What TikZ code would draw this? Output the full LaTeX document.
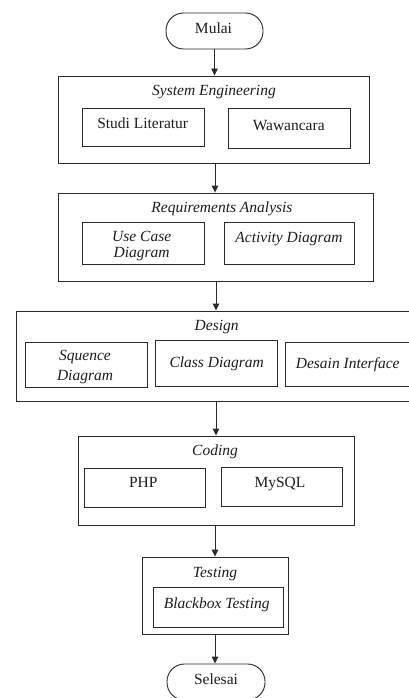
\documentclass[tikz,border=0pt]{standalone}
\usepackage{fontspec}
\setmainfont{Liberation Serif}
\usetikzlibrary{arrows.meta}
\definecolor{lc}{HTML}{2B2B2B}
\definecolor{tc}{HTML}{1E1E1E}
\begin{document}
\begin{tikzpicture}[x=1pt,y=-1pt,
  box/.style={draw=lc, line width=0.9pt, inner sep=0pt, fill=none},
  term/.style={box, rounded corners=17.5pt},
  txt/.style={inner sep=0pt, text height=0.66em, text depth=0pt, text=tc,
    font=\fontsize{15.5}{17}\selectfont, yshift=-1.5pt},
  ital/.style={txt, font=\fontsize{15.5}{17}\selectfont\itshape},
  arr/.style={draw=lc, line width=0.9pt, -{Triangle[length=7pt,width=6.5pt]}}]
\clip (0,0) rectangle (409,698);
\fill[white] (0,0) rectangle (409,698);

% start
\node[term, minimum width=97pt, minimum height=36pt] (mulai) at (214.5,31) {};
\node[txt] (mulaiT) at (213.5,28.5) {Mulai};

% System Engineering
\node[box, minimum width=311pt, minimum height=87pt] (se) at (213.5,119.5) {};
\node[ital] (seT) at (214,91) {System Engineering};
\node[box, minimum width=122pt, minimum height=38pt] (studi) at (143,127) {};
\node[txt] (studiT) at (142.7,124) {Studi Literatur};
\node[box, minimum width=122pt, minimum height=40pt] (waw) at (289,128) {};
\node[txt] (wawT) at (288.7,125.5) {Wawancara};

% Requirements Analysis
\node[box, minimum width=315pt, minimum height=88pt] (ra) at (215.5,237) {};
\node[ital] (raT) at (222,207.5) {Requirements Analysis};
\node[box, minimum width=122pt, minimum height=42pt] (uc) at (143,243) {};
\node[ital] (ucT1) at (141.7,236.5) {Use Case};
\node[ital] (ucT2) at (141.7,253) {Diagram};
\node[box, minimum width=130pt, minimum height=42pt] (act) at (289,243) {};
\node[ital] (actT) at (289,238) {Activity Diagram};

% Design
\node[box, minimum width=398pt, minimum height=90pt] (design) at (215,356) {};
\node[ital] (designT) at (216.7,326) {Design};
\node[box, minimum width=122pt, minimum height=45pt] (sq) at (86,364.5) {};
\node[ital] (sqT1) at (85,356) {Squence};
\node[ital] (sqT2) at (85,376) {Diagram};
\node[box, minimum width=122pt, minimum height=46pt] (cls) at (216,363) {};
\node[ital] (clsT) at (216.7,363) {Class Diagram};
\node[box, minimum width=128pt, minimum height=44pt] (dsn) at (349,364) {};
\node[ital] (dsnT) at (347.7,363.3) {Desain Interface};

% Coding
\node[box, minimum width=276pt, minimum height=89pt] (coding) at (216,480.5) {};
\node[ital] (codingT) at (215,450.7) {Coding};
\node[box, minimum width=121pt, minimum height=39pt] (php) at (144.5,487.5) {};
\node[txt] (phpT) at (143.3,482.7) {PHP};
\node[box, minimum width=121pt, minimum height=39pt] (mysql) at (281.5,486.5) {};
\node[txt] (mysqlT) at (280,482.7) {MySQL};

% Testing
\node[box, minimum width=146pt, minimum height=77pt] (testing) at (215,595.5) {};
\node[ital] (testingT) at (215,572.7) {Testing};
\node[box, minimum width=130pt, minimum height=40pt] (bb) at (218,607) {};
\node[ital] (bbT) at (216.7,603.3) {Blackbox Testing};

% end
\node[term, minimum width=98pt, minimum height=36pt] (selesai) at (216,682) {};
\node[txt] (selesaiT) at (216,680) {Selesai};

% connectors
\draw[arr] (mulai.south) -- (mulai.south |- se.north);
\draw[arr] ([xshift=1.5pt]se.south) -- ([xshift=1.5pt]se.south |- ra.north);
\draw[arr] ([xshift=0.5pt]ra.south) -- ([xshift=0.5pt]ra.south |- design.north);
\draw[arr] ([xshift=1pt]design.south) -- ([xshift=1pt]design.south |- coding.north);
\draw[arr] ([xshift=-1pt]coding.south) -- ([xshift=-1pt]coding.south |- testing.north);
\draw[arr] (testing.south) -- (testing.south |- selesai.north);
\end{tikzpicture}
\end{document}
